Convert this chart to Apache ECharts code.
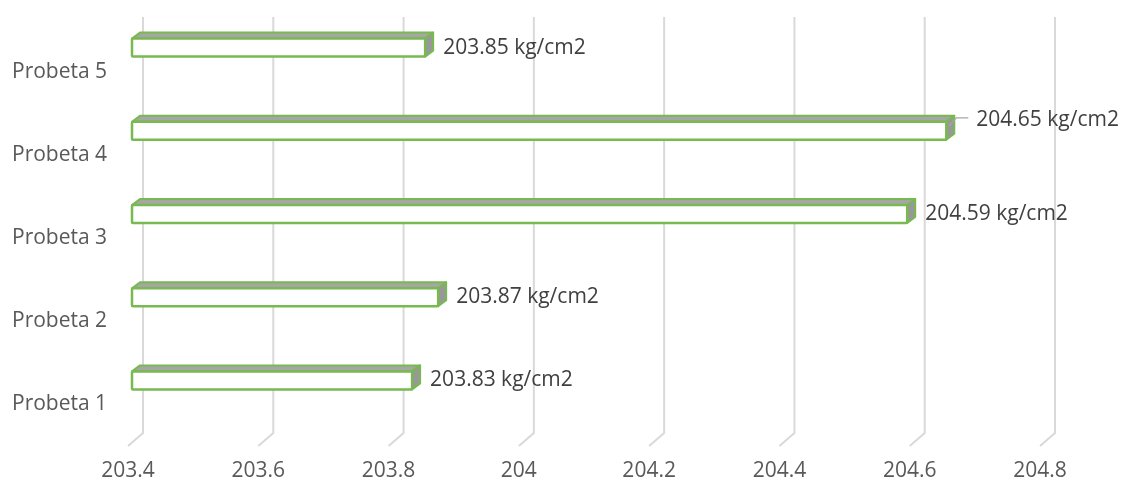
<!DOCTYPE html>
<html>
<head>
<meta charset="utf-8">
<script src="https://cdn.jsdelivr.net/npm/echarts@6/dist/echarts.min.js"></script>
<style>
  html, body { margin: 0; padding: 0; background: #fff; }
  #main { width: 1125px; height: 484px; }
</style>
</head>
<body>
<div id="main"></div>
<script>
var categories = ['Probeta 1', 'Probeta 2', 'Probeta 3', 'Probeta 4', 'Probeta 5'];
var values = [203.83, 203.87, 204.59, 204.65, 203.85];
var ticks = [203.4, 203.6, 203.8, 204, 204.2, 204.4, 204.6, 204.8];
var unit = ' kg/cm2';
var movedLabel = 'Probeta 4';

var green = '#78b950';
var depthX = 15, depthY = -13;   // back wall offset
var barDx = 8, barDy = -6;       // bar depth

var myChart = echarts.init(document.getElementById('main'));

function gridItem(params, api) {
    var cs = params.coordSys;
    var x = api.coord([api.value(0), 0])[0];
    var bottom = cs.y + cs.height;
    return {
        type: 'polyline',
        shape: {
            points: [
                [x + depthX, cs.y + depthY],
                [x + depthX, bottom + depthY],
                [x, bottom]
            ]
        },
        style: { stroke: '#d9d9d9', lineWidth: 2, fill: null },
        silent: true
    };
}

function barItem(params, api) {
    var idx = api.value(1);
    var base = api.coord([ticks[0], idx]);
    var end = api.coord([api.value(0), idx]);
    var cy = base[1];
    var x0 = base[0] + 4, x1 = end[0] + 4;
    var yTop = cy - 33, yBot = cy - 15;
    var children = [
        {
            type: 'polygon',
            shape: { points: [[x0, yTop], [x0 + barDx, yTop + barDy], [x1 + barDx, yTop + barDy], [x1, yTop]] },
            style: { fill: '#a6a6a6', stroke: green, lineWidth: 2, lineJoin: 'round' }
        },
        {
            type: 'polygon',
            shape: { points: [[x1, yTop], [x1 + barDx, yTop + barDy], [x1 + barDx, yBot + barDy], [x1, yBot]] },
            style: { fill: '#989898', stroke: green, lineWidth: 2, lineJoin: 'round' }
        },
        {
            type: 'rect',
            shape: { x: x0, y: yTop, width: x1 - x0, height: yBot - yTop, r: 1 },
            style: { fill: '#ffffff', stroke: green, lineWidth: 2.5 }
        }
    ];
    var text = api.value(0).toFixed(2) + unit;
    var lx = x1 + barDx + 10, ly = (yTop + yBot) / 2;
    if (categories[idx] === movedLabel) {
        children.push({
            type: 'polyline',
            shape: { points: [[x1 + 3, yTop + 4], [x1 + 10, cy - 37], [x1 + 22, cy - 37]] },
            style: { stroke: '#a6a6a6', lineWidth: 1.2, fill: null }
        });
        lx = x1 + barDx + 22;
        ly = cy - 35;
    }
    children.push({
        type: 'text',
        style: {
            x: lx, y: ly, text: text,
            fill: '#404040', font: '21px "Open Sans"',
            align: 'left', verticalAlign: 'middle'
        }
    });
    return { type: 'group', children: children };
}

myChart.setOption({
    animation: false,
    grid: { left: 128, right: 85, top: 30, bottom: 38 },
    xAxis: {
        type: 'value',
        min: 203.4,
        max: 204.8,
        interval: 0.2,
        axisLine: { show: false },
        axisTick: { show: false },
        splitLine: { show: false },
        axisLabel: {
            margin: 15,
            color: '#595959',
            fontSize: 21,
            fontFamily: 'Open Sans',
            formatter: function (v) { return String(+v.toFixed(1)); }
        }
    },
    yAxis: {
        type: 'category',
        data: categories,
        axisLine: { show: false },
        axisTick: { show: false },
        axisLabel: {
            align: 'left',
            margin: 116,
            color: '#595959',
            fontSize: 21,
            fontFamily: 'Open Sans'
        }
    },
    series: [
        {
            type: 'custom',
            renderItem: gridItem,
            data: ticks.map(function (t) { return [t, 0]; }),
            z: 1
        },
        {
            type: 'custom',
            renderItem: barItem,
            data: values.map(function (v, i) { return [v, i]; }),
            z: 2
        }
    ]
});
</script>
</body>
</html>
